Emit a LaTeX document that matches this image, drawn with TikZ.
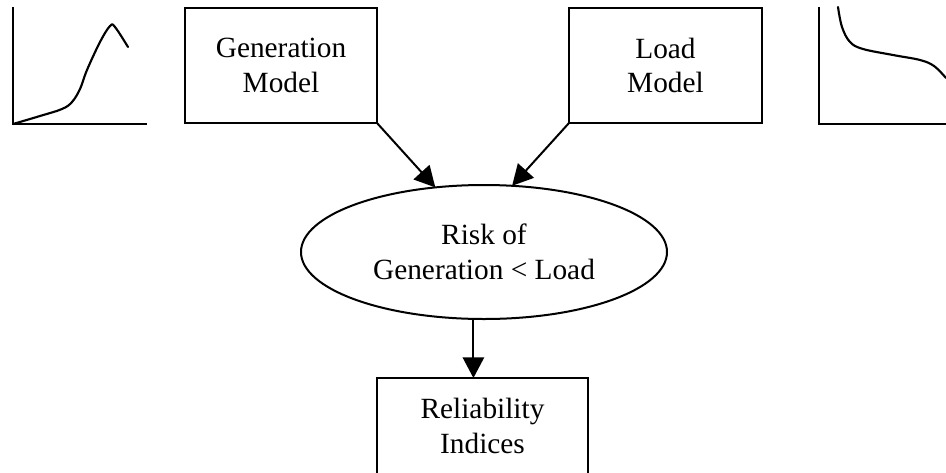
\documentclass[tikz,border=0pt]{standalone}
\usepackage{fontspec}
\setmainfont{Liberation Serif}
\usetikzlibrary{arrows.meta,shapes.geometric}

\begin{document}
\begin{tikzpicture}[x=0.75pt,y=-0.75pt,
  line width=1.5pt,
  every node/.style={font=\fontsize{22}{26}\selectfont, align=center, inner sep=0pt, outer sep=0pt},
  modelbox/.style={draw, rectangle, minimum height=86.25pt},
  riskshape/.style={draw, ellipse, minimum width=274.5pt, minimum height=100.5pt},
  arr/.style={-{Triangle[length=15.5pt,width=16pt]}},
  curve/.style={line width=1.6pt, line join=round, line cap=round}]

  % canvas
  \clip (0,0) rectangle (946,472);

  % generation distribution sketch
  \draw (13,7) -- (13,124) -- (147,124);
  \draw[curve] plot[smooth, tension=0.6] coordinates
    {(13,124) (40,116) (62,109) (72,102) (80,89) (87,70) (100,42) (110,26) (115,27) (128,47)};

  % load duration sketch
  \draw (819,7) -- (819,124) -- (946,124);
  \draw[curve] plot[smooth, tension=0.6] coordinates
    {(838,7) (842,27) (850,42) (863,49) (893,55) (920,60) (934,66) (946,78)};

  % blocks
  \node[modelbox, minimum width=144pt] (gen) at (281,65.5) {Generation\\Model};
  \node[modelbox, minimum width=144.75pt] (load) at (665.5,65.5) {Load\\Model};
  \node[riskshape] (risk) at (484,252) {Risk of\\Generation < Load};
  \node[draw, rectangle, minimum width=158.25pt, minimum height=72pt] (rel) at (482.5,426) {Reliability\\Indices};

  % connectors
  \draw[arr] (gen.south east) -- (risk.127);
  \draw[arr] (load.south west) -- (risk.67);
  \draw[arr] (risk.-99) -- (risk.-99 |- rel.north);
\end{tikzpicture}
\end{document}
